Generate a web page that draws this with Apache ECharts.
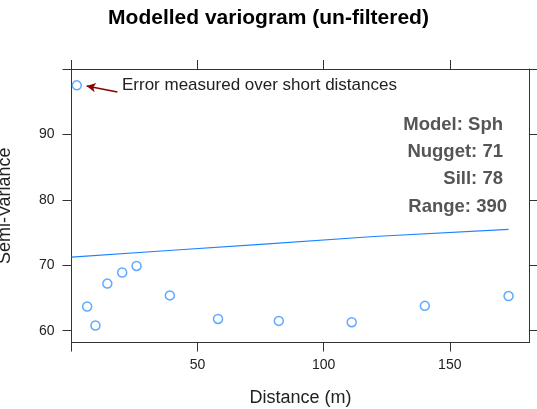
<!DOCTYPE html>
<html>
<head>
<meta charset="utf-8">
<script src="https://cdn.jsdelivr.net/npm/echarts@6/dist/echarts.min.js"></script>
<style>html,body{margin:0;padding:0;background:#fff}#c{width:537px;height:409px}</style>
</head>
<body>
<div id="c"></div>
<script>
// Empirical variogram points
const distance = [2.1, 6.2, 9.5, 14.2, 20.1, 25.8, 39.0, 58.1, 82.2, 111.1, 140.1, 173.3];
const semiVariance = [97.5, 63.7, 60.8, 67.2, 68.9, 69.9, 65.4, 61.8, 61.5, 61.3, 63.8, 65.3];
// Fitted model line
const modelDist = [0, 40, 75, 120, 173.3];
const modelGamma = [71.25, 72.3, 73.2, 74.4, 75.5];
// Ticks
const xTicks = [0, 50, 100, 150];
const xLabels = [50, 100, 150];
const yTicks = [60, 70, 80, 90, 100];
const yLabels = [60, 70, 80, 90];
// Annotation
const arrowFrom = [18.2, 96.5];
const arrowTo = [6.0, 97.4];
const noteText = 'Error measured over short distances';
const modelLines = ['Model: Sph', 'Nugget: 71', 'Sill: 78', 'Range: 390'];

const FONT = "'Liberation Sans', Arial, Helvetica, sans-serif";
const AX = '#333';
const chart = echarts.init(document.getElementById('c'));

const xBase = {
  type: 'value', min: 0, max: 181.6,
  axisLine: { show: true, onZero: false, lineStyle: { color: AX, width: 1 } },
  axisTick: { show: true, inside: false, length: 9, customValues: xTicks, lineStyle: { color: AX } },
  splitLine: { show: false }
};
const yBase = {
  type: 'value', min: 58.2, max: 100,
  axisLine: { show: true, onZero: false, lineStyle: { color: AX, width: 1 } },
  axisTick: { show: true, inside: false, length: 9, customValues: yTicks, lineStyle: { color: AX } },
  splitLine: { show: false }
};

const modelGraphics = modelLines.map((t, i) => ({
  type: 'text',
  x: i === 3 ? 507 : 503,
  y: [125, 152, 179, 207][i],
  style: { text: t, fill: '#555', font: "bold 18.5px " + FONT, textAlign: 'right', textVerticalAlign: 'middle' }
}));

chart.setOption({
  animation: false,
  title: {
    text: 'Modelled variogram (un-filtered)', left: 'center', top: 3,
    textStyle: { fontFamily: FONT, fontSize: 21, fontWeight: 'bold', color: '#000' }
  },
  grid: { left: 71.5, right: 7.5, top: 69, bottom: 66.5, containLabel: false, outerBoundsMode: 'none' },
  xAxis: [
    Object.assign({}, xBase, {
      position: 'bottom',
      name: 'Distance (m)', nameLocation: 'middle', nameGap: 47,
      nameTextStyle: { fontFamily: FONT, fontSize: 18, color: '#222' },
      axisLabel: { show: true, customValues: xLabels, margin: 16, fontFamily: FONT, fontSize: 14, color: '#222' }
    }),
    Object.assign({}, xBase, { position: 'top', axisLabel: { show: false } })
  ],
  yAxis: [
    Object.assign({}, yBase, {
      position: 'left',
      name: 'Semi-Variance', nameLocation: 'middle', nameGap: 57,
      nameTextStyle: { fontFamily: FONT, fontSize: 18, color: '#222' },
      axisLabel: { show: true, customValues: yLabels, margin: 17, fontFamily: FONT, fontSize: 14, color: '#222' }
    }),
    Object.assign({}, yBase, { position: 'right', axisLabel: { show: false } })
  ],
  series: [
    {
      type: 'line',
      data: modelDist.map((d, i) => [d, modelGamma[i]]),
      showSymbol: false, symbol: 'none', smooth: false,
      lineStyle: { color: '#1a85ff', width: 1.2 },
      silent: true
    },
    {
      type: 'scatter',
      data: distance.map((d, i) => [d, semiVariance[i]]),
      symbol: 'circle', symbolSize: 9,
      itemStyle: { color: 'rgba(255,255,255,0)', borderColor: '#3a93ff', borderWidth: 1.5 },
      markLine: {
        silent: true, animation: false,
        symbol: ['none', 'arrow'], symbolSize: [7, 9],
        label: { show: false },
        lineStyle: { color: '#8b0000', width: 1.5, type: 'solid' },
        data: [[{ coord: arrowFrom }, { coord: arrowTo }]]
      }
    }
  ],
  graphic: [
    {
      type: 'text', x: 122, y: 85,
      style: { text: noteText, fill: '#222', font: "17px " + FONT, textVerticalAlign: 'middle' }
    }
  ].concat(modelGraphics)
});
</script>
</body>
</html>
